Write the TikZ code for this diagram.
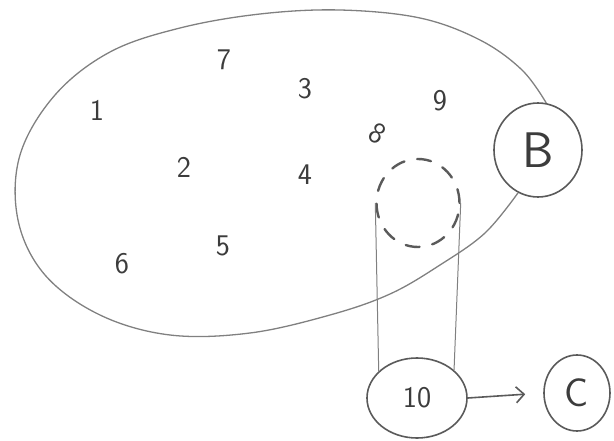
\documentclass[tikz,border=0pt]{standalone}
\usetikzlibrary{shapes.geometric,arrows.meta}
\definecolor{pencil}{RGB}{128,128,128}
\definecolor{lead}{RGB}{90,90,90}
\definecolor{ink}{RGB}{60,60,60}
\begin{document}
\begin{tikzpicture}[x=1pt,y=-1pt,
  every node/.style={font=\sffamily, text=ink},
  digit/.style={font=\sffamily\fontsize{30}{32}\selectfont},
  bubble/.style={draw=lead, line width=1.6pt, ellipse, inner sep=0pt},
  outline/.style={draw=pencil, line width=1.3pt},
  hidden/.style={draw=lead, line width=2.4pt, dash pattern=on 14pt off 13pt, line cap=round}]
\useasboundingbox (0,0) rectangle (614,441);

% set members
\node[digit] (n1) at (97,110) {1};
\node[digit] (n7) at (224,60) {7};
\node[digit] (n3) at (305,89) {3};
\node[digit] (n9) at (440,101) {9};
\node[digit, rotate=-30] (n8) at (378,134) {8};
\node[digit] (n2) at (184,167) {2};
\node[digit] (n4) at (305,175) {4};
\node[digit] (n6) at (122,264) {6};
\node[digit] (n5) at (223,246) {5};

% outer nodes
\node[bubble, minimum width=88pt, minimum height=94pt,
      font=\sffamily\fontsize{50}{52}\selectfont] (B) at (538,150) {B};
\node[bubble, minimum width=100pt, minimum height=80pt,
      font=\sffamily\fontsize{30}{32}\selectfont] (ten) at (417,398) {10};
\node[bubble, minimum width=66pt, minimum height=76pt,
      font=\sffamily\fontsize{40}{42}\selectfont] (C) at (577,393) {C};

% dashed region inside the set
\node[hidden, ellipse, inner sep=0pt, minimum width=83pt, minimum height=88pt] (cyl) at (418,203) {};

% set boundary attached to B
\draw[outline] plot[smooth, tension=0.6] coordinates {
  (B.80) (522,70) (480,40) (420,18) (340,10) (260,14) (180,28) (110,52)
  (55,95) (20,155) (18,220) (45,275) (100,315) (170,335) (250,333)
  (330,315) (390,294) (440,265) (485,233) (B.245)};

% tube down to 10
\draw[outline, line width=1pt] (cyl.west) -- (ten.145);
\draw[outline, line width=1pt] (cyl.east) -- (ten.37);

% arrow 10 -> C
\draw[draw=lead, line width=1.6pt, -{Straight Barb[length=8pt,width=16pt]}, shorten >=18pt] (ten.east) -- (C.west);
\end{tikzpicture}
\end{document}
